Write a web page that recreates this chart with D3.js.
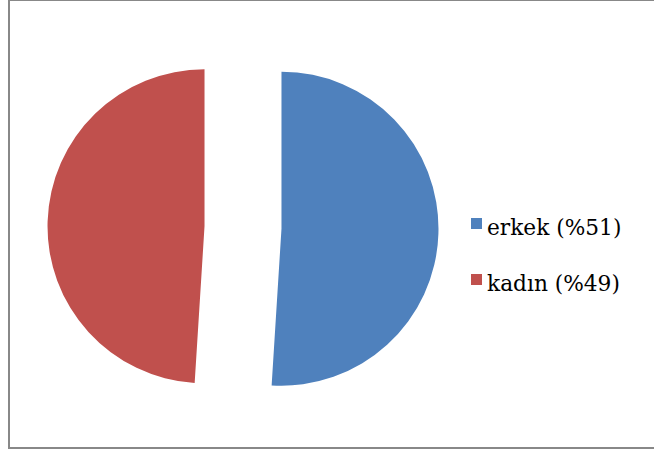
<!DOCTYPE html>
<html>
<head>
<meta charset="utf-8">
<script src="https://cdn.jsdelivr.net/npm/d3@7"></script>
<style>
  body { margin: 0; background: #fff; }
</style>
</head>
<body>
<div id="chart"></div>
<script>
let width = 654
let height = 452

let categories = ['erkek', 'kadın']
let values = [51, 49]
let legendLabels = ['erkek (%51)', 'kadın (%49)']
let colors = ['#4F81BD', '#C0504D']

let cx = 243
let cy = 227.5
let radius = 157
let explode = 38.5

let svg = d3.select('#chart')
  .append('svg')
  .attr('width', width)
  .attr('height', height)

// outer frame, right edge falls outside the picture
svg.append('rect')
  .attr('x', 9)
  .attr('y', 0)
  .attr('width', 700)
  .attr('height', 448)
  .attr('fill', 'none')
  .attr('stroke', '#888')
  .attr('stroke-width', 2)

let pie = d3.pie()
  .sort(null)
  .value(d => d)

let arc = d3.arc()
  .innerRadius(0)
  .outerRadius(radius)

let container = svg.append('g')
  .attr('transform', `translate(${cx},${cy})`)

// exploded slices: push each one out along its middle angle
container.selectAll('path')
  .data(pie(values))
  .join('path')
  .attr('d', arc)
  .attr('fill', (d, i) => colors[i])
  .attr('transform', d => {
    let mid = (d.startAngle + d.endAngle) / 2
    let dx = Math.sin(mid) * explode
    let dy = -Math.cos(mid) * explode
    return `translate(${dx},${dy})`
  })

let legend = svg.append('g')
  .attr('transform', 'translate(471,218)')

let row = d3.scaleBand()
  .domain(categories)
  .range([0, 112])

let items = legend.selectAll('g')
  .data(categories)
  .join('g')
  .attr('transform', d => `translate(0,${row(d)})`)

items.append('rect')
  .attr('width', 11)
  .attr('height', 11)
  .attr('fill', (d, i) => colors[i])

items.append('text')
  .attr('x', 16)
  .attr('y', 17)
  .attr('font-family', 'DejaVu Serif')
  .attr('font-size', 21.7)
  .attr('fill', '#000')
  .text((d, i) => legendLabels[i])
</script>
</body>
</html>
